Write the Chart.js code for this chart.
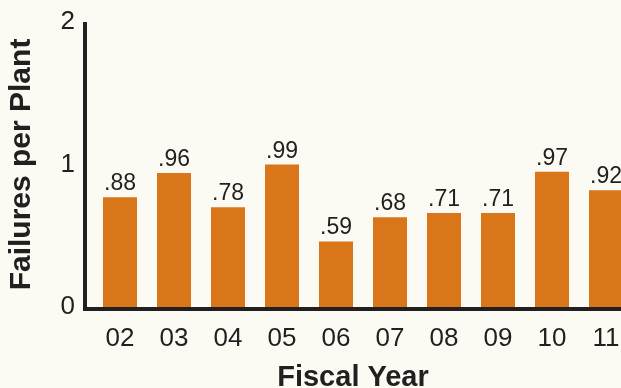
<!DOCTYPE html>
<html>
<head>
<meta charset="utf-8">
<script src="https://cdn.jsdelivr.net/npm/chart.js@4.4.1/dist/chart.umd.min.js"></script>
<style>
  html, body { margin: 0; padding: 0; overflow: hidden; background: #fbfaf3; }
  canvas { display: block; }
</style>
</head>
<body>
<canvas id="chart" width="640" height="388"></canvas>
<script>
// fiscal years on the x axis
const categories = ["02", "03", "04", "05", "06", "07", "08", "09", "10", "11"];
// bar heights as drawn against the axis (failures per plant)
const barValues = [0.77, 0.94, 0.70, 1.00, 0.46, 0.63, 0.66, 0.66, 0.95, 0.82];
// numbers printed above the bars
const valueLabels = [".88", ".96", ".78", ".99", ".59", ".68", ".71", ".71", ".97", ".92"];
const yTicks = [0, 1, 2];

const ink = "#231f20";
const barColor = "#d9761a";

// axis lines, bar labels and the x title
const decorations = {
  id: "decorations",
  afterDatasetsDraw(chart) {
    const ctx = chart.ctx;
    const area = chart.chartArea;
    const y = chart.scales.y;
    const axisX = area.left - 8;
    const baseY = y.getPixelForValue(0) + 2;

    ctx.save();
    ctx.strokeStyle = ink;
    ctx.lineWidth = 4;
    ctx.beginPath();
    ctx.moveTo(axisX, y.getPixelForValue(yTicks[yTicks.length - 1]));
    ctx.lineTo(axisX, baseY + 2);
    ctx.moveTo(axisX - 2, baseY);
    ctx.lineTo(chart.width, baseY);
    ctx.stroke();

    ctx.fillStyle = ink;
    ctx.font = "23px 'Liberation Sans', Arial, sans-serif";
    ctx.textAlign = "center";
    ctx.textBaseline = "alphabetic";
    chart.getDatasetMeta(0).data.forEach((bar, i) => {
      ctx.fillText(valueLabels[i], bar.x, bar.y - 7);
    });

    ctx.font = "bold 29px 'Liberation Sans', Arial, sans-serif";
    ctx.fillText("Fiscal Year", (axisX + 621) / 2, chart.height - 2);
    ctx.restore();
  }
};

new Chart(document.getElementById("chart"), {
  type: "bar",
  data: {
    labels: categories,
    datasets: [{
      data: barValues,
      backgroundColor: barColor,
      borderWidth: 0,
      barPercentage: 0.63,
      categoryPercentage: 1
    }]
  },
  options: {
    responsive: false,
    animation: false,
    devicePixelRatio: 1,
    layout: { padding: { top: 22, right: 7, left: 0, bottom: 0 } },
    plugins: {
      legend: { display: false },
      tooltip: { enabled: false }
    },
    scales: {
      x: {
        grid: { display: false, drawTicks: false },
        border: { display: false },
        ticks: {
          color: ink,
          padding: 16,
          maxRotation: 0,
          font: { family: "'Liberation Sans', Arial, sans-serif", size: 26 }
        },
        afterFit(scale) { scale.height = 81; }
      },
      y: {
        min: 0,
        max: 2,
        grid: { display: false, drawTicks: false },
        border: { display: false },
        afterBuildTicks(scale) { scale.ticks = yTicks.map(v => ({ value: v })); },
        ticks: {
          color: ink,
          padding: 18,
          font: { family: "'Liberation Sans', Arial, sans-serif", size: 26 }
        },
        title: {
          display: true,
          text: "Failures per Plant",
          color: ink,
          padding: { top: 4, bottom: 0 },
          font: { family: "'Liberation Sans', Arial, sans-serif", size: 30, weight: "bold" }
        },
        afterFit(scale) {
          scale.width = 93;
          scale.paddingTop = 0;
          scale.paddingBottom = 0;
        }
      }
    }
  },
  plugins: [decorations]
});
</script>
</body>
</html>
